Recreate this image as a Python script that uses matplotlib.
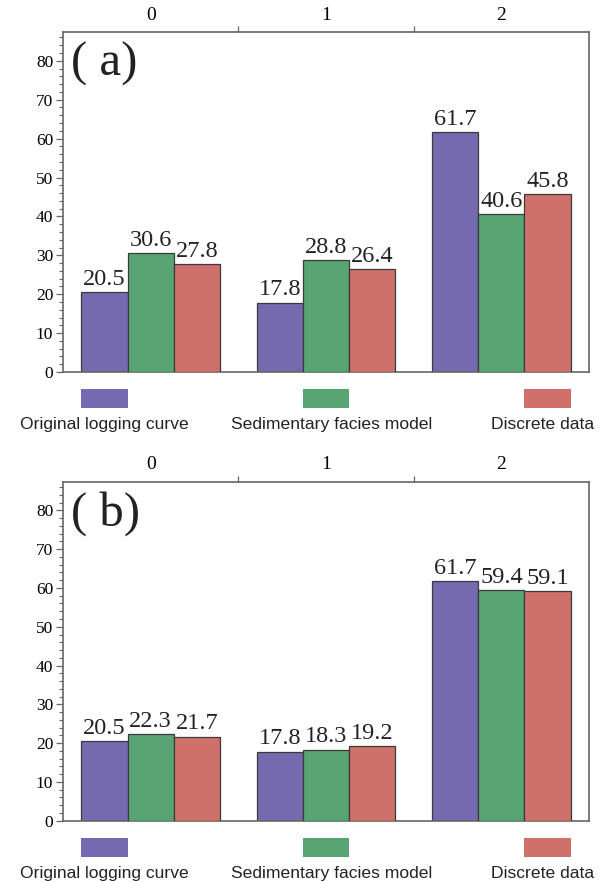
import numpy as np
import matplotlib
matplotlib.use('Agg')
import matplotlib.pyplot as plt
import matplotlib.transforms as mtransforms
from matplotlib.patches import Rectangle
from matplotlib.ticker import MultipleLocator, FixedLocator

# data
groups = [0, 1, 2]
series_names = ['Original logging curve', 'Sedimentary facies model', 'Discrete data']
colors = ['#7569AF', '#58A573', '#D0706A']
orig_a = [20.5, 17.8, 61.7]
sed_a = [30.6, 28.8, 40.6]
disc_a = [27.8, 26.4, 45.8]
orig_b = [20.5, 17.8, 61.7]
sed_b = [22.3, 18.3, 59.4]
disc_b = [21.7, 19.2, 59.1]

SERIF = ['Liberation Serif', 'DejaVu Serif']
SANS = ['Liberation Sans', 'DejaVu Sans']
SPINE = '#666666'
W = 0.263


def panel(ax, values, tag):
    x = np.array(groups, dtype=float)
    offs = [-W, 0.0, W]
    for i, vals in enumerate(values):
        z = 2 + 2 * i
        ax.bar(x + offs[i], vals, width=W, color=colors[i], edgecolor='#3a3a3a',
               linewidth=0.9, zorder=z)
        for xi, v in zip(x + offs[i], vals):
            ax.text(xi, v + 0.6, '%.1f' % v, ha='center', va='bottom',
                    family=SERIF, fontsize=17.5, color='#222222', zorder=z + 1)

    ax.set_xlim(-0.5, 2.5)
    ax.set_ylim(0, 87.4)

    for s in ax.spines.values():
        s.set_color(SPINE)
        s.set_linewidth(1.2)

    # y axis
    ax.yaxis.set_major_locator(MultipleLocator(10))
    ax.yaxis.set_minor_locator(MultipleLocator(2))
    ax.tick_params(axis='y', which='major', length=5, width=0.9, color=SPINE,
                   direction='out', labelsize=12.5, pad=2)
    ax.tick_params(axis='y', which='minor', length=3, width=0.8, color=SPINE,
                   direction='out')
    for lab in ax.get_yticklabels():
        lab.set_family(SERIF)

    # top axis labels 0,1,2 with tick marks between groups
    ax.xaxis.tick_top()
    ax.xaxis.set_major_locator(FixedLocator(groups))
    ax.xaxis.set_minor_locator(FixedLocator([0.5, 1.5]))
    ax.set_xticklabels([str(g) for g in groups], family=SERIF, fontsize=14)
    ax.tick_params(axis='x', which='major', length=0, pad=6)
    ax.tick_params(axis='x', which='minor', length=4, width=0.9, color=SPINE,
                   direction='out')

    ax.text(0.015, 0.905, '( %s)' % tag, transform=ax.transAxes, family=SERIF,
            fontsize=35, ha='left', va='center', color='#222222')

    # legend patches placed under the bars
    trans = mtransforms.blended_transform_factory(ax.transData, ax.transAxes)
    text_shift = [0.0, 0.03, -0.03]
    for i, name in enumerate(series_names):
        cx = groups[i] + offs[i]
        ax.add_patch(Rectangle((cx - W / 2, -0.106), W, 0.056, transform=trans,
                               facecolor=colors[i], edgecolor='none', clip_on=False))
        ax.text(cx + text_shift[i], -0.155, name, transform=trans, ha='center',
                va='center', family=SANS, fontsize=12.6, color='#222222')


fig = plt.figure(figsize=(6.14, 8.82), dpi=100)
ax1 = fig.add_axes([0.1026, 0.5782, 0.8567, 0.3855])
ax2 = fig.add_axes([0.1026, 0.0695, 0.8567, 0.3844])
panel(ax1, [orig_a, sed_a, disc_a], 'a')
panel(ax2, [orig_b, sed_b, disc_b], 'b')

fig.savefig('out.png', dpi=100)
